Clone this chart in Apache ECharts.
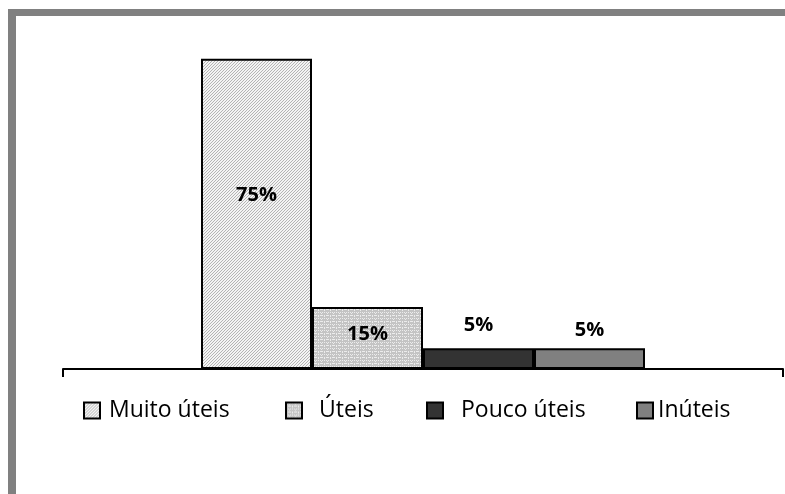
<!DOCTYPE html>
<html>
<head>
<meta charset="utf-8">
<script src="https://cdn.jsdelivr.net/npm/echarts@6/dist/echarts.min.js"></script>
<style>
html,body{margin:0;padding:0;background:#fff;}
#wrap{position:relative;width:785px;height:494px;overflow:hidden;background:#fff;}
#frame{position:absolute;left:8px;top:9px;width:800px;height:500px;border-left:8px solid #808080;border-top:7px solid #808080;box-sizing:content-box;}
#chart{position:absolute;left:0;top:0;width:785px;height:494px;}
</style>
</head>
<body>
<div id="wrap">
<div id="frame"></div>
<div id="chart"></div>
</div>
<script>
// ---- data ----
const categories = [''];
const seriesNames = ['Muito úteis', 'Úteis', 'Pouco úteis', 'Inúteis'];
const values = [75, 15, 5, 5];

// ---- styles ----
function makePattern(w, h, bg, fg, pts) {
  const c = document.createElement('canvas');
  c.width = w; c.height = h;
  const ctx = c.getContext('2d');
  ctx.fillStyle = bg; ctx.fillRect(0, 0, w, h);
  ctx.fillStyle = fg;
  pts.forEach(p => ctx.fillRect(p[0], p[1], 1, 1));
  return { image: c, repeat: 'repeat' };
}
const hatch = makePattern(3, 3, '#f4f4f4', '#b4b4b4', [[2,0],[1,1],[0,2]]);
const dots = makePattern(6, 6, '#c4c4c4', '#ececec', [[0,0],[2,0],[4,0],[3,1],[0,3],[2,3],[3,3],[4,3],[0,4]]);
const fills = [hatch, dots, '#333333', '#808080'];
const labelPos = [
  { position: 'inside', offset: [0, -19] },
  { position: 'inside', offset: [0, -4] },
  { position: 'top', offset: [0, -8] },
  { position: 'top', offset: [0, -3] }
];
const legendLeft = [83, 285, 426, 636];
const legendTextPad = [4, 12, 13, 0];

const chart = echarts.init(document.getElementById('chart'), null, { renderer: 'canvas' });
const font = 'Open Sans';

const series = seriesNames.map((name, i) => ({
  name: name,
  type: 'bar',
  data: [values[i]],
  barWidth: 111,
  barGap: '0%',
  itemStyle: { color: fills[i], borderColor: '#000', borderWidth: 2 },
  label: {
    show: true,
    position: labelPos[i].position,
    offset: labelPos[i].offset,
    formatter: '{c}%',
    fontFamily: font,
    fontWeight: 'bold',
    fontSize: 20,
    color: '#000'
  },
  emphasis: { disabled: true }
}));

const legends = seriesNames.map((name, i) => ({
  data: [name],
  left: legendLeft[i],
  top: 399,
  padding: 0,
  icon: 'rect',
  itemWidth: 16,
  itemHeight: 16,
  selectedMode: false,
  itemStyle: { borderColor: '#000', borderWidth: 2 },
  textStyle: { fontFamily: font, fontSize: 23, color: '#000', padding: [0, 0, 0, legendTextPad[i]] }
}));

chart.setOption({
  animation: false,
  backgroundColor: 'transparent',
  grid: { left: 63, right: 2, top: 38, bottom: 125 },
  legend: legends,
  xAxis: {
    type: 'category',
    data: categories,
    axisLine: { show: true, lineStyle: { color: '#000', width: 2 } },
    axisTick: { show: true, length: 8, lineStyle: { color: '#000', width: 2 } },
    axisLabel: { show: false },
    splitLine: { show: false }
  },
  yAxis: {
    type: 'value',
    min: 0,
    max: 80,
    show: false,
    splitLine: { show: false }
  },
  series: series
});
</script>
</body>
</html>
